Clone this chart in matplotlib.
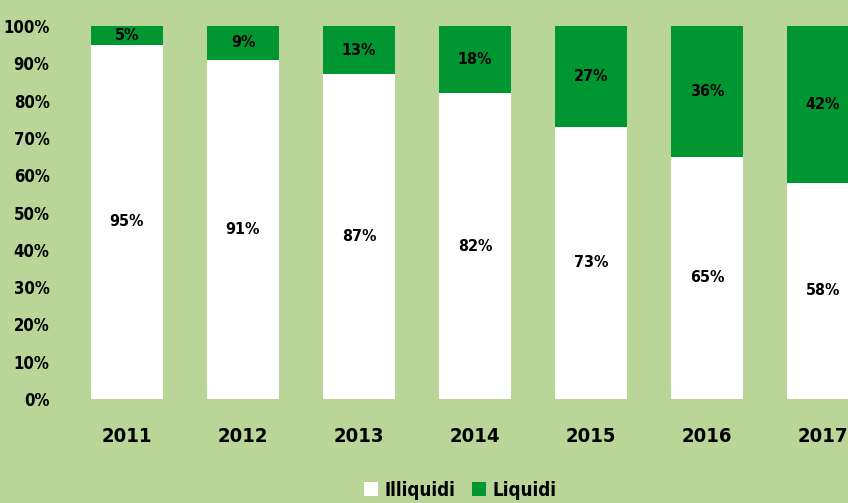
import matplotlib
matplotlib.use('Agg')
from matplotlib import pyplot as plt
from matplotlib.patches import Patch
import numpy as np

years = ['2011', '2012', '2013', '2014', '2015', '2016', '2017']
illiquidi = [95, 91, 87, 82, 73, 65, 58]
liquidi = [5, 9, 13, 18, 27, 36, 42]
yticks = [0, 10, 20, 30, 40, 50, 60, 70, 80, 90, 100]

BG = '#b9d597'
GREEN = '#009632'

plt.rcParams['font.family'] = ['DejaVu Sans']
plt.rcParams['font.weight'] = 'bold'
plt.rcParams['font.stretch'] = 'condensed'

fig = plt.figure(figsize=(8.48, 5.03), dpi=100, facecolor=BG)
ax = fig.add_axes([69 / 848, 104 / 503, 812 / 848, 373 / 503])
ax.set_facecolor(BG)

x = np.arange(len(years))
w = 0.62
ax.bar(x, illiquidi, w, color='white', label='Illiquidi')
ax.bar(x, liquidi, w, bottom=illiquidi, color=GREEN, label='Liquidi')

for i in range(len(years)):
    ax.text(x[i], illiquidi[i] / 2, f'{illiquidi[i]}%', ha='center', va='center',
            fontsize=11.5, fontweight='bold')
    top = min(illiquidi[i] + liquidi[i], 100)
    ax.text(x[i], (illiquidi[i] + top) / 2, f'{liquidi[i]}%', ha='center', va='center',
            fontsize=11.5, fontweight='bold')

ax.set_xlim(-0.5, 6.5)
ax.set_ylim(0, 100)
ax.set_yticks(yticks)
ax.set_yticklabels([f'{t}%' for t in yticks], fontsize=12, fontweight='bold')
ax.set_xticks(x)
ax.set_xticklabels(years, fontsize=14.5, fontweight='bold')
ax.tick_params(axis='y', length=0, pad=14)
ax.tick_params(axis='x', length=0, pad=20)
for s in ax.spines.values():
    s.set_visible(False)

handles = [Patch(facecolor='white', label='Illiquidi'),
           Patch(facecolor=GREEN, label='Liquidi')]
fig.legend(handles=handles, loc='center', bbox_to_anchor=(460 / 848, 1 - 490 / 503),
           ncol=2, frameon=False, prop={'size': 13.5, 'weight': 'bold'},
           handlelength=0.75, handleheight=0.75, handletextpad=0.35, columnspacing=0.9)

fig.savefig('out.png', dpi=100, facecolor=BG)
plt.close()
